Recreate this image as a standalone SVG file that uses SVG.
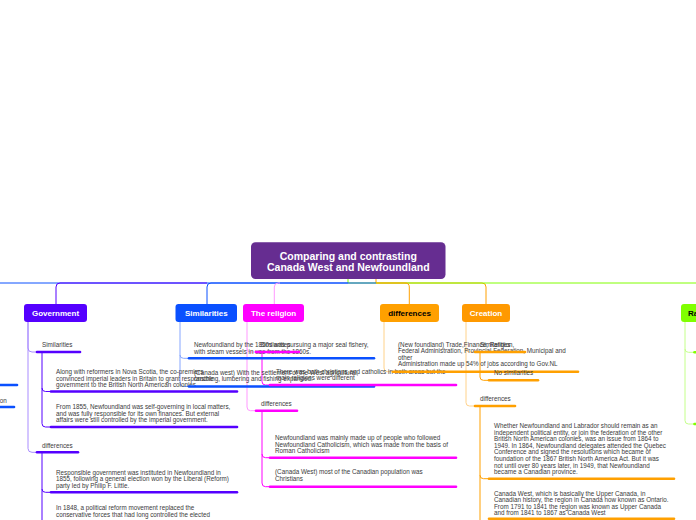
<svg xmlns="http://www.w3.org/2000/svg" width="696" height="520" viewBox="0 0 696 520">
<style>
.t{font-family:"Liberation Sans",Arial,sans-serif;font-size:6.3px;fill:#3a3a3a}
.h{font-family:"Liberation Sans",Arial,sans-serif;font-size:8px;font-weight:bold;text-anchor:middle}
.w{fill:#fff}
.k{fill:#000}
.c{fill:none;stroke-width:1}
.b{fill:none;stroke-width:2.6;stroke-linecap:round}
.pu{stroke:#5500ff}.bl{stroke:#0a50ff}.mg{stroke:#ff00ff}.or{stroke:#ffa000}.gr{stroke:#80ff00}
.lpu{stroke:#a98cff}.lbl{stroke:#86a6ff}.lmg{stroke:#ff99ff}.lor{stroke:#ffd28a}.lgr{stroke:#c4ff8a}
</style>
<rect width="696" height="520" fill="#fff"/>
<g id="connectors">
<path class="c or" d="M376,279 V283 H482 Q486,283 486,287 V304"/>
<path class="c gr" d="M348,279 V283 H696"/>
<path class="c or" d="M376,283 H405 Q409.3,283 409.3,287 V304"/>
<path class="c bl" d="M0,283 H376"/>
<path class="c bl" d="M348,283 H211 Q207,283 207,287 V304"/>
<path class="c pu" d="M207,283 H60 Q56,283 56,287 V304"/>
<path class="c lmg" d="M280,283 H278.3 Q274.3,283 274.3,287 V304"/>
<path class="c lpu" d="M28,322 V448.5 Q28,452.3 32,452.3 H37 M28,322 V348 Q28,352 32,352 H37"/>
<path class="c pu" d="M42,352 V388 Q42,391.5 45.5,391.5 H51 M42,388 V423.5 Q42,427 45.5,427 H51"/>
<path class="c pu" d="M42,452.3 V520 M42,489 Q42,492.3 45.5,492.3 H51"/>
<path class="c lbl" d="M180,322 V355 Q180,358.3 183.5,358.3 H189 M180,355 V383 Q180,386.5 183.5,386.5 H189"/>
<path class="c lmg" d="M247,322 V407 Q247,410.7 250.5,410.7 H256 M247,348.5 Q247,352 250.5,352 H256"/>
<path class="c mg" d="M262,352 V381.5 Q262,385 265.5,385 H270"/>
<path class="c mg" d="M262,410.7 V454 Q262,457.7 265.5,457.7 H270 M262,454 V483 Q262,486.7 265.5,486.7 H270"/>
<path class="c lor" d="M384,322 V368 Q384,371.7 387.5,371.7 H393"/>
<path class="c lor" d="M466,322 V402.5 Q466,406 469.5,406 H475 M466,348.5 Q466,352 469.5,352 H475"/>
<path class="c or" d="M480,352 V377 Q480,380.3 483.5,380.3 H489"/>
<path class="c or" d="M480,406 V520 M480,475.2 Q480,478.7 483.5,478.7 H489"/>
<path class="c lgr" d="M685,322 V349 Q685,352.3 688.5,352.3 H694 M685,349 V420.5 Q685,424 688.5,424 H694"/>
</g>
<g id="root">
<rect x="251" y="242.3" width="194.5" height="36.7" rx="4.5" fill="#662d91"/>
<text class="h w" x="348.3" y="259.8" style="font-size:10.5px">Comparing and contrasting</text>
<text class="h w" x="348.3" y="270.7" style="font-size:10.5px">Canada West and Newfoundland</text>
</g>
<g id="left-offscreen">
<line class="b bl" x1="-3" y1="385" x2="17" y2="385"/>
<line class="b bl" x1="-3" y1="407" x2="14" y2="407"/>
<text class="t" x="6.7" y="402.5" text-anchor="end">on</text>
</g>
<g id="government">
<rect x="24" y="304" width="63" height="18" rx="3" fill="#5500ff"/>
<text class="h w" x="55.5" y="316.2">Government</text>
</g>
<g id="gov-similarities">
<text class="t" x="42" y="347">Similarities</text>
<line class="b pu" x1="37" y1="352" x2="80" y2="352"/>
</g>
<g id="gov-sim-1">
<text class="t" x="56" y="374">Along with reformers in Nova Scotia, the co-premiers</text>
<text class="t" x="56" y="380.5">convinced imperial leaders in Britain to grant responsible</text>
<text class="t" x="56" y="387">government to the British North American colonies.</text>
<line class="b pu" x1="51" y1="391.5" x2="237" y2="391.5"/>
</g>
<g id="gov-sim-2">
<text class="t" x="56" y="409.3">From 1855, Newfoundland was self-governing in local matters,</text>
<text class="t" x="56" y="415.7">and was fully responsible for its own finances. But external</text>
<text class="t" x="56" y="422.1">affairs were still controlled by the imperial government.</text>
<line class="b pu" x1="51" y1="427" x2="237" y2="427"/>
</g>
<g id="gov-differences">
<text class="t" x="42" y="448">differences</text>
<line class="b pu" x1="37" y1="452.3" x2="78" y2="452.3"/>
</g>
<g id="gov-diff-1">
<text class="t" x="56" y="474.7">Responsible government was instituted in Newfoundland in</text>
<text class="t" x="56" y="481.3">1855, following a general election won by the Liberal (Reform)</text>
<text class="t" x="56" y="487.9">party led by Philip F. Little.</text>
<line class="b pu" x1="51" y1="492.3" x2="237" y2="492.3"/>
</g>
<g id="gov-diff-2">
<text class="t" x="56" y="510.3">In 1848, a political reform movement replaced the</text>
<text class="t" x="56" y="516.7">conservative forces that had long controlled the elected</text>
</g>
<g id="similarities">
<rect x="175.5" y="304" width="61.5" height="18" rx="3" fill="#0a50ff"/>
<text class="h w" x="206.3" y="316.2">Similarities</text>
</g>
<g id="sim-1">
<text class="t" x="194" y="347">Newfoundland by the 1850s was pursuing a major seal fishery,</text>
<text class="t" x="194" y="353.5">with steam vessels in use from the 1860s.</text>
<line class="b bl" x1="189" y1="358.3" x2="374" y2="358.3"/>
</g>
<g id="sim-2">
<text class="t" x="194" y="374.6">(Canada west) With the settlement of the West agricultural,</text>
<text class="t" x="194" y="381.1">ranching, lumbering and fishing expanded.</text>
<line class="b bl" x1="189" y1="386.5" x2="374" y2="386.5"/>
</g>
<g id="religion">
<rect x="243" y="304" width="61" height="18" rx="3" fill="#ff00ff"/>
<text class="h w" x="273.6" y="316.2">The religion</text>
</g>
<g id="rel-similarities">
<text class="t" x="260" y="347">Similarities</text>
<line class="b mg" x1="256" y1="352" x2="299" y2="352"/>
</g>
<g id="rel-sim-1">
<text class="t" x="276" y="374">There was both christians and catholics in both areas but the</text>
<text class="t" x="276" y="380.3">main religions were different</text>
<line class="b mg" x1="270" y1="385" x2="456" y2="385"/>
</g>
<g id="rel-differences">
<text class="t" x="261" y="406">differences</text>
<line class="b mg" x1="256" y1="410.7" x2="297" y2="410.7"/>
</g>
<g id="rel-diff-1">
<text class="t" x="275" y="440.3">Newfoundland was mainly made up of people who followed</text>
<text class="t" x="275" y="446.8">Newfoundland Catholicism, which was made from the basis of</text>
<text class="t" x="275" y="453.3">Roman Catholicism</text>
<line class="b mg" x1="270" y1="457.7" x2="456" y2="457.7"/>
</g>
<g id="rel-diff-2">
<text class="t" x="275" y="474.3">(Canada West) most of the Canadian population was</text>
<text class="t" x="275" y="480.7">Christians</text>
<line class="b mg" x1="270" y1="486.7" x2="456" y2="486.7"/>
</g>
<g id="differences">
<rect x="380" y="304" width="59" height="18" rx="3" fill="#ffa000"/>
<text class="h k" x="409.5" y="316.2">differences</text>
</g>
<g id="diff-1">
<text class="t" x="398" y="347">(New foundland) Trade,Finance, Religion,</text>
<text class="t" x="398" y="353.4">Federal Administration, Provincial Federation, Municipal and</text>
<text class="t" x="398" y="359.8">other</text>
<text class="t" x="398" y="366.2">Administration made up 54% of jobs according to Gov.NL</text>
<line class="b or" x1="393" y1="371.7" x2="578" y2="371.7"/>
</g>
<g id="creation">
<rect x="462" y="304" width="48" height="18" rx="3" fill="#ff9900"/>
<text class="h w" x="486" y="316.2">Creation</text>
</g>
<g id="cre-similarities">
<text class="t" x="480" y="347">Similarities</text>
<line class="b or" x1="475" y1="352" x2="525" y2="352"/>
</g>
<g id="cre-sim-1">
<text class="t" x="494" y="375.3">No similarities</text>
<line class="b or" x1="489" y1="380.3" x2="538" y2="380.3"/>
</g>
<g id="cre-differences">
<text class="t" x="480" y="401">differences</text>
<line class="b or" x1="475" y1="406" x2="515" y2="406"/>
</g>
<g id="cre-diff-1">
<text class="t" x="494" y="428">Whether Newfoundland and Labrador should remain as an</text>
<text class="t" x="494" y="434.6">independent political entity, or join the federation of the other</text>
<text class="t" x="494" y="441.2">British North American colonies, was an issue from 1864 to</text>
<text class="t" x="494" y="447.8">1949. In 1864, Newfoundland delegates attended the Quebec</text>
<text class="t" x="494" y="454.4">Conference and signed the resolutions which became of</text>
<text class="t" x="494" y="461">foundation of the 1867 British North America Act. But it was</text>
<text class="t" x="494" y="467.6">not until over 80 years later, in 1949, that Newfoundland</text>
<text class="t" x="494" y="474.2">became a Canadian province.</text>
<line class="b or" x1="489" y1="478.7" x2="674" y2="478.7"/>
</g>
<g id="cre-diff-2">
<text class="t" x="494" y="495.8">Canada West, which is basically the Upper Canada, in</text>
<text class="t" x="494" y="502.2">Canadian history, the region in Canada now known as Ontario.</text>
<text class="t" x="494" y="508.7">From 1791 to 1841 the region was known as Upper Canada</text>
<text class="t" x="494" y="515.2">and from 1841 to 1867 as Canada West</text>
<line class="b or" x1="489" y1="518.7" x2="674" y2="518.7"/>
</g>
<g id="green-node">
<rect x="681" y="304" width="40" height="18" rx="3" fill="#80ff00"/>
<text class="h k" x="688" y="316.2" style="text-anchor:start">Ra</text>
<line class="b gr" x1="694.5" y1="352.3" x2="700" y2="352.3"/>
<line class="b gr" x1="694.5" y1="424" x2="700" y2="424"/>
</g>
</svg>
